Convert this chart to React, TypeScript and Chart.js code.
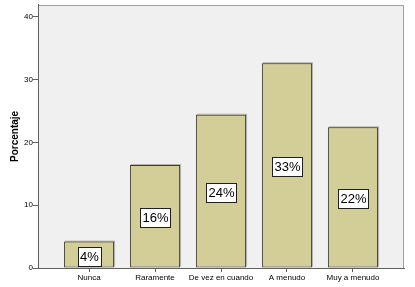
import React, { useEffect, useRef } from "react";
import { Chart, registerables } from "chart.js";

Chart.register(...registerables);

const categories = ["Nunca", "Raramente", "De vez en cuando", "A menudo", "Muy a menudo"];
const values = [4.2, 16.4, 24.4, 32.6, 22.4];
const yTicks = [0, 10, 20, 30, 40];
const yTitle = "Porcentaje";

const bgPlugin = {
  id: "bgPlugin",
  beforeDraw(chart: any) {
    const { ctx, chartArea: a } = chart;
    ctx.save();
    ctx.fillStyle = "#f0f0f0";
    ctx.fillRect(a.left, a.top, a.right - a.left, a.bottom - a.top);
    ctx.strokeStyle = "#a0a0a0";
    ctx.lineWidth = 1;
    ctx.beginPath();
    ctx.moveTo(a.left, Math.round(a.top) + 0.5);
    ctx.lineTo(Math.round(a.right) - 0.5, Math.round(a.top) + 0.5);
    ctx.lineTo(Math.round(a.right) - 0.5, a.bottom);
    ctx.stroke();
    ctx.restore();
  },
  beforeDatasetsDraw(chart: any) {
    const { ctx } = chart;
    const meta = chart.getDatasetMeta(0);
    ctx.save();
    ctx.fillStyle = "#b4b4b4";
    meta.data.forEach((el: any) => {
      const w = el.width;
      ctx.fillRect(el.x - w / 2 + 1, el.y - 1, w, el.base - el.y);
    });
    ctx.restore();
  },
  afterDatasetsDraw(chart: any) {
    const { ctx } = chart;
    const meta = chart.getDatasetMeta(0);
    ctx.save();
    ctx.font = "13px Arial, 'Liberation Sans', sans-serif";
    ctx.textAlign = "center";
    ctx.textBaseline = "middle";
    meta.data.forEach((el: any, i: number) => {
      const txt = Math.round(values[i]) + "%";
      const tw = ctx.measureText(txt).width;
      const cx = Math.round(el.x);
      const cy = Math.round((el.y + el.base) / 2) + 1;
      const bw = Math.round(tw + 4);
      const bh = 19;
      const x0 = Math.round(cx - bw / 2) + 0.5;
      const y0 = Math.round(cy - bh / 2) + 0.5;
      ctx.fillStyle = "#ffffff";
      ctx.fillRect(x0, y0, bw, bh);
      ctx.strokeStyle = "#202020";
      ctx.lineWidth = 1;
      ctx.strokeRect(x0, y0, bw, bh);
      ctx.fillStyle = "#000000";
      ctx.fillText(txt, cx + 0.5, cy + 1);
    });
    ctx.restore();
  },
};

export default function App() {
  const ref = useRef<HTMLCanvasElement | null>(null);
  useEffect(() => {
    if (!ref.current) return;
    const chart = new Chart(ref.current, {
      type: "bar",
      data: {
        datasets: [
          {
            data: values.map((v, i) => ({ x: i, y: v })),
            backgroundColor: "#d3ce97",
            borderColor: "#3c3c30",
            borderWidth: 1,
            borderSkipped: false,
            barPercentage: 0.76,
            categoryPercentage: 1,
          },
        ],
      },
      options: {
        animation: false,
        responsive: false,
        maintainAspectRatio: false,
        layout: { padding: { left: 0, right: 11, top: 3, bottom: 0 } },
        plugins: { legend: { display: false }, tooltip: { enabled: false } },
        scales: {
          x: {
            type: "linear",
            offset: false,
            min: -0.773,
            max: 4.773,
            afterBuildTicks: (s: any) => {
              s.ticks = categories.map((_, i) => ({ value: i }));
            },
            afterFit: (s: any) => {
              s.height = 19;
            },
            grid: {
              offset: false,
              drawOnChartArea: false,
              drawTicks: true,
              tickLength: 4,
              tickColor: "#606060",
            },
            border: { display: true, color: "#606060", width: 1 },
            ticks: {
              autoSkip: false,
              maxRotation: 0,
              padding: 1,
              color: "#000",
              font: { family: "Arial, 'Liberation Sans', sans-serif", size: 8 },
              callback: (v: any) => categories[v] ?? "",
            },
          },
          y: {
            min: 0,
            max: 41.9,
            afterBuildTicks: (s: any) => {
              s.ticks = yTicks.map((v) => ({ value: v }));
            },
            afterFit: (s: any) => {
              s.width = 38;
            },
            grid: {
              drawOnChartArea: false,
              drawTicks: true,
              tickLength: 5,
              tickColor: "#606060",
            },
            border: { display: true, color: "#606060", width: 1 },
            title: {
              display: true,
              text: yTitle,
              color: "#000",
              font: { family: "Arial, 'Liberation Sans', sans-serif", size: 10, weight: "bold" },
              padding: { top: 9, bottom: 0 },
            },
            ticks: {
              padding: 0,
              color: "#000",
              font: { family: "Arial, 'Liberation Sans', sans-serif", size: 8 },
            },
          },
        },
      },
      plugins: [bgPlugin],
    } as any);
    return () => chart.destroy();
  }, []);
  return (
    <div style={{ position: "fixed", left: 0, top: 0, width: 415, height: 287, background: "#fff" }}>
      <canvas ref={ref} width={415} height={287} style={{ width: 415, height: 287, display: "block" }} />
    </div>
  );
}
